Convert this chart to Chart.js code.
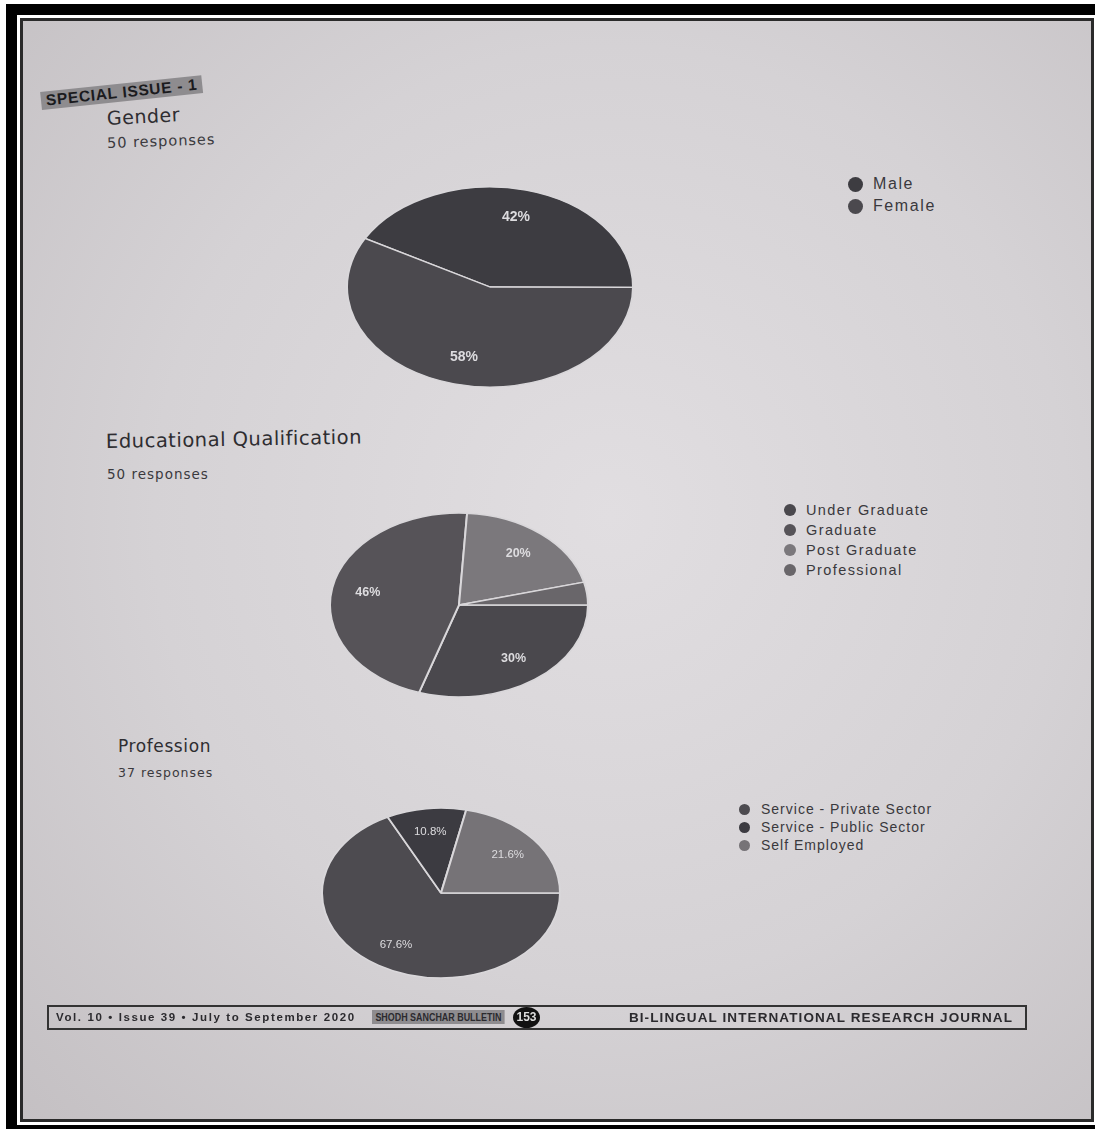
<!DOCTYPE html>
<html>
<head>
<meta charset="utf-8">
<script src="https://cdn.jsdelivr.net/npm/chart.js@4.4.1/dist/chart.umd.min.js"></script>
<style>
  html, body { margin: 0; padding: 0; background: #fff; }
  body { width: 1095px; height: 1129px; position: relative; overflow: hidden; }
  .frame {
    position: absolute; left: 6px; top: 4px; width: 1080px; height: 1110px;
    border: solid #000; border-width: 11px 6px 5px 11px; background: #fff;
  }
  .page {
    position: absolute; left: 3px; top: 3px; right: 3px; bottom: 3px;
    border: 3px solid #2a2a2a;
    background: radial-gradient(ellipse at 55% 45%, #e1dee1 0%, #d5d2d5 55%, #c4c0c3 100%);
  }
  .abs { position: absolute; white-space: nowrap; }
  .badge {
    left: 42px; top: 92px; background: #8e8c8f; color: #1b1b1e; padding: 0px 5px 0px 5px; line-height: 17px;
    font: bold 15.5px "Liberation Sans", Arial, sans-serif; letter-spacing: 0.7px;
    transform: rotate(-6deg); transform-origin: left bottom;
  }
  .title { font-family: "DejaVu Sans", sans-serif; color: #2e2d31; }
  .sub { font-family: "DejaVu Sans", sans-serif; color: #3a393d; letter-spacing: 1px; }
  canvas.pie { position: absolute; }
  .legend { position: absolute; font-family: "Liberation Sans", Arial, sans-serif; color: #3a393d; }
  .legend div { display: flex; align-items: center; }
  .legend span.dot { display: inline-block; border-radius: 50%; }
  .footer {
    left: 47px; top: 1005px; width: 976px; height: 21px; border: 2px solid #333;
    font: bold 11.5px "Liberation Sans", Arial, sans-serif; color: #2b2a2e;
  }
  .footer .bul { position: absolute; left: 323px; top: 3px; background: #8e8c8f; padding: 1px 4px;
    font: bold 10.5px "Liberation Sans", sans-serif; transform: scaleX(0.85); transform-origin: left; }
  .footer .pg { position: absolute; left: 464px; top: 0px; width: 27px; height: 21px; border-radius: 50%;
    background: #111; color: #ddd; font-size: 12px; text-align: center; line-height: 21px; }
</style>
</head>
<body>
<div class="frame"><div class="page"></div></div>

<div class="abs badge">SPECIAL ISSUE - 1</div>

<div class="abs title" style="left:107px;top:107px;font-size:19px;letter-spacing:0.5px;transform:rotate(-3deg);transform-origin:left;">Gender</div>
<div class="abs sub" style="left:107px;top:135px;font-size:14.5px;transform:rotate(-2deg);transform-origin:left;">50 responses</div>

<div class="abs title" style="left:106px;top:430px;font-size:19.5px;letter-spacing:0.5px;transform:rotate(-1deg);transform-origin:left;">Educational Qualification</div>
<div class="abs sub" style="left:107px;top:466px;font-size:13.5px;">50 responses</div>

<div class="abs title" style="left:118px;top:736px;font-size:17px;letter-spacing:0.6px;">Profession</div>
<div class="abs sub" style="left:118px;top:765px;font-size:12.5px;">37 responses</div>

<canvas id="genderChart" class="pie" style="left:346px;top:143px;" width="288" height="288"></canvas>
<canvas id="eduChart" class="pie" style="left:329px;top:475px;" width="260" height="260"></canvas>
<canvas id="profChart" class="pie" style="left:321px;top:773px;" width="240" height="240"></canvas>

<div id="genderLegend" class="legend" style="left:848px;top:173px;"></div>
<div id="eduLegend" class="legend" style="left:784px;top:500px;"></div>
<div id="profLegend" class="legend" style="left:739px;top:800px;"></div>

<div class="abs footer">
  <span style="position:absolute;left:7px;top:4px;letter-spacing:1.6px;">Vol. 10 &#8226; Issue 39 &#8226; July to September 2020</span>
  <span class="bul">SHODH SANCHAR BULLETIN</span>
  <span class="pg">153</span>
  <span style="position:absolute;right:12px;top:3px;font-size:13.5px;letter-spacing:1.1px;">BI-LINGUAL INTERNATIONAL RESEARCH JOURNAL</span>
</div>

<script>
// data
const genderLabels = ['Male', 'Female'];
const genderValues = [42, 58];

const eduLabels = ['Under Graduate', 'Graduate', 'Post Graduate', 'Professional'];
const eduValues = [30, 46, 20, 4];

const profLabels = ['Service - Private Sector', 'Service - Public Sector', 'Self Employed'];
const profValues = [67.6, 10.8, 21.6];

// colours (photocopy greys)
const genderColors = ['#3d3c41', '#4b494e'];
const eduColors = ['#4a484d', '#565358', '#7b787c', '#69666a'];
const profColors = ['#4d4b50', '#3c3b41', '#767377'];

function fmtPct(v, total) {
  const p = Math.round(v / total * 1000) / 10;
  return (p % 1 === 0 ? p.toFixed(0) : p.toFixed(1)) + '%';
}

// squash the pie vertically (photo perspective) and put % labels inside
const ellipsePlugin = {
  id: 'ellipse',
  beforeDatasetsDraw(chart, args, opts) {
    const a = chart.chartArea;
    const cx = (a.left + a.right) / 2, cy = (a.top + a.bottom) / 2;
    chart.ctx.save();
    chart.ctx.translate(cx, cy);
    chart.ctx.scale(1, opts.sy);
    chart.ctx.translate(-cx, -cy);
  },
  afterDatasetsDraw(chart, args, opts) {
    const ctx = chart.ctx;
    ctx.restore();
    const meta = chart.getDatasetMeta(0);
    const values = chart.data.datasets[0].data;
    const total = values.reduce((s, v) => s + v, 0);
    ctx.save();
    ctx.fillStyle = '#dddcdf';
    ctx.font = opts.font;
    ctx.textAlign = 'center';
    ctx.textBaseline = 'middle';
    meta.data.forEach((arc, i) => {
      if (values[i] / total < 0.05) return;
      const mid = (arc.startAngle + arc.endAngle) / 2;
      const r = arc.outerRadius * 0.72;
      const x = arc.x + Math.cos(mid) * r;
      const y = arc.y + Math.sin(mid) * r * opts.sy;
      ctx.fillText(fmtPct(values[i], total), x, y);
    });
    ctx.restore();
  }
};

function makePie(id, labels, values, colors, rotation, sy, font) {
  return new Chart(document.getElementById(id), {
    type: 'pie',
    data: {
      labels: labels,
      datasets: [{
        data: values,
        backgroundColor: colors,
        borderColor: '#d9d7da',
        borderWidth: 2
      }]
    },
    options: {
      responsive: false,
      animation: false,
      events: [],
      rotation: rotation,
      layout: { padding: 0 },
      plugins: {
        legend: { display: false },
        tooltip: { enabled: false },
        ellipse: { sy: sy, font: font }
      }
    },
    plugins: [ellipsePlugin]
  });
}

// legend built from the chart's own labels and colours
function htmlLegend(chart, elId, fontSize, spacing, dot, rowH, gap) {
  const el = document.getElementById(elId);
  const ds = chart.data.datasets[0];
  chart.data.labels.forEach((lab, i) => {
    const row = document.createElement('div');
    row.style.height = rowH + 'px';
    row.style.fontSize = fontSize + 'px';
    row.style.letterSpacing = spacing + 'px';
    const d = document.createElement('span');
    d.className = 'dot';
    d.style.width = dot + 'px';
    d.style.height = dot + 'px';
    d.style.marginRight = gap + 'px';
    d.style.background = ds.backgroundColor[i];
    row.appendChild(d);
    row.appendChild(document.createTextNode(lab));
    el.appendChild(row);
  });
}

const g = makePie('genderChart', genderLabels, genderValues, genderColors, -61, 0.70, 'bold 14px "Liberation Sans", Arial, sans-serif');
const e = makePie('eduChart', eduLabels, eduValues, eduColors, 90, 0.713, 'bold 12.5px "Liberation Sans", Arial, sans-serif');
const p = makePie('profChart', profLabels, profValues, profColors, 90, 0.714, '11.5px "Liberation Sans", Arial, sans-serif');

htmlLegend(g, 'genderLegend', 16, 1.6, 15, 22, 10);
htmlLegend(e, 'eduLegend', 14.5, 1.4, 12, 20, 10);
htmlLegend(p, 'profLegend', 14, 1.0, 11, 18, 11);
</script>
</body>
</html>
